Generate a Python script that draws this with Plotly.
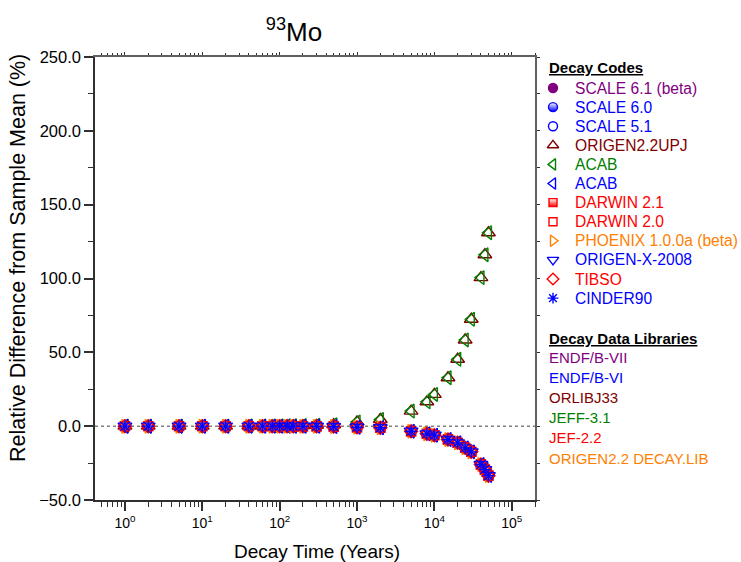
import math
import plotly.graph_objects as go

# ---------------- data ----------------
times = [1, 2, 5, 10, 20, 40, 60, 80, 100, 125, 150, 200, 300, 500,
         1000, 2000, 5000, 8000, 10000, 15000, 20000, 25000, 30000,
         40000, 45000, 50000]
upper_vals = [0.0, 0.0, 0.0, 0.0, 0.0, 0.1, 0.1, 0.2, 0.2, 0.3, 0.3, 0.4, 0.6, 1.0,
              2.9, 4.5, 10.2, 16.5, 21.5, 32.8, 45.3, 58.4, 72.4,
              100.6, 116.1, 131.0]
lower_vals = [0.0, 0.0, 0.0, 0.0, 0.0, 0.0, 0.0, 0.0, 0.0, 0.0, -0.1, -0.1, -0.1, -0.2,
              -0.7, -1.1, -3.4, -5.2, -6.1, -9.0, -11.3, -14.7, -17.4,
              -26.0, -29.4, -33.5]

codes = ["SCALE 6.1 (beta)", "SCALE 6.0", "SCALE 5.1", "ORIGEN2.2UPJ", "ACAB", "ACAB",
         "DARWIN 2.1", "DARWIN 2.0", "PHOENIX 1.0.0a (beta)", "ORIGEN-X-2008", "TIBSO", "CINDER90"]
code_group = ["lower", "lower", "lower", "upper", "upper", "lower",
              "lower", "lower", "lower", "lower", "lower", "lower"]
code_colors = ["#800080", "#0000FF", "#0000FF", "#800000", "#008000", "#0000FF",
               "#FF0000", "#FF0000", "#FF8000", "#0000FF", "#FF0000", "#0000FF"]
code_symbols = ["circle", "circle", "circle-open", "triangle-up-open", "triangle-left-open",
                "triangle-left-open", "square", "square-open", "triangle-right-open",
                "triangle-down-open", "diamond-open", "asterisk-open"]
code_half = [False, True, False, False, False, False, True, False, False, False, False, False]
code_sizes = [10, 10, 10, 12, 12, 12, 9, 9, 12, 12, 10, 10]
legend_sizes = [9, 9, 9, 10, 10, 10, 8, 8, 10, 10, 9, 9]

libraries = ["ENDF/B-VII", "ENDF/B-VI", "ORLIBJ33", "JEFF-3.1", "JEF-2.2", "ORIGEN2.2 DECAY.LIB"]
library_colors = ["#800080", "#0000FF", "#800000", "#008000", "#FF0000", "#FF8000"]

x_tick_vals = [1, 10, 100, 1000, 10000, 100000]
x_tick_text = ["10<sup>%d</sup>" % k for k in range(6)]

FONT = "Liberation Sans, Arial, sans-serif"
W, H = 741, 562
ML, MT, MB = 95, 57, 62
PAPER_W = W - ML
PLOT_R = 535
X_RANGE = [math.log10(0.41), math.log10(2.0e5)]
Y_RANGE = [-50, 250]


def make_marker(col, sym, half, sz):
    m = dict(symbol=sym, size=sz, color=("white" if half else col), opacity=1,
             line=dict(color=col, width=1.4))
    if half:
        m["gradient"] = dict(type="vertical", color=col)
    return m


fig = go.Figure()

values = {"upper": upper_vals, "lower": lower_vals}
for name, grp, col, sym, half, sz in zip(codes, code_group, code_colors, code_symbols,
                                        code_half, code_sizes):
    fig.add_trace(go.Scatter(x=times, y=values[grp], mode="markers", name=name,
                             marker=make_marker(col, sym, half, sz), showlegend=False,
                             xaxis="x", yaxis="y"))

# invisible trace so the mirrored (top / right) axes get drawn
fig.add_trace(go.Scatter(x=[times[0]], y=[0], mode="markers", marker=dict(opacity=0),
                         showlegend=False, hoverinfo="skip", xaxis="x3", yaxis="y3"))

# legend block drawn on a secondary axis pair (pixel-like coordinates)
leg_y = [88 + 19.1 * i for i in range(len(codes))]
for name, col, sym, half, sz, yy in zip(codes, code_colors, code_symbols, code_half,
                                       legend_sizes, leg_y):
    fig.add_trace(go.Scatter(x=[8], y=[yy], mode="markers", showlegend=False,
                             hoverinfo="skip", xaxis="x2", yaxis="y2",
                             marker=make_marker(col, sym, half, sz)))

annotations = []
annotations.append(dict(text="Decay Codes", xref="x2", yref="y2", x=1.5, y=67,
                        xanchor="left", yanchor="middle", showarrow=False,
                        font=dict(family=FONT, size=15, color="black", weight="bold",
                                  lineposition="under")))
for name, col, yy in zip(codes, code_colors, leg_y):
    annotations.append(dict(text=name, xref="x2", yref="y2", x=28, y=yy,
                            xanchor="left", yanchor="middle", showarrow=False,
                            font=dict(family=FONT, size=15.6, color=col)))
annotations.append(dict(text="Decay Data Libraries", xref="x2", yref="y2", x=1.5, y=338,
                        xanchor="left", yanchor="middle", showarrow=False,
                        font=dict(family=FONT, size=15, color="black", weight="bold",
                                  lineposition="under")))
for i, (lib, col) in enumerate(zip(libraries, library_colors)):
    annotations.append(dict(text=lib, xref="x2", yref="y2", x=1.5, y=357 + 20.2 * i,
                            xanchor="left", yanchor="middle", showarrow=False,
                            font=dict(family=FONT, size=15, color=col)))

# axis titles
annotations.append(dict(text="Relative Difference from Sample Mean (%)", textangle=-90,
                        xref="paper", yref="paper", x=(18 - ML) / PAPER_W,
                        y=(H - MB - 258) / (H - MT - MB), xanchor="center", yanchor="middle",
                        showarrow=False, font=dict(family=FONT, size=21.5, color="black")))
annotations.append(dict(text="Decay Time (Years)", xref="paper", yref="paper",
                        x=(317 - ML) / PAPER_W, y=-(551 - (H - MB)) / (H - MT - MB),
                        xanchor="center", yanchor="middle", showarrow=False,
                        font=dict(family=FONT, size=19, color="black")))

minor_x = [m * 10 ** k for k in range(-1, 6) for m in range(2, 10)
           if 0.41 <= m * 10 ** k <= 2.0e5]

axis_common = dict(showgrid=False, zeroline=False, showline=True, linecolor="#303030",
                   linewidth=1.5, ticks="outside", tickcolor="#303030",
                   tickwidth=1.5, ticklen=9)
mirror_common = dict(showgrid=False, zeroline=False, showline=True, linecolor="#606060",
                     linewidth=1.5, ticks="outside", tickcolor="#303030", tickwidth=1,
                     ticklen=3, showticklabels=False, fixedrange=True)

fig.update_layout(
    width=W, height=H,
    margin=dict(l=ML, r=0, t=MT, b=MB, pad=0),
    paper_bgcolor="white", plot_bgcolor="white",
    font=dict(family=FONT, color="black"),
    title=dict(text="<sup>93</sup>Mo", x=294 / W, xref="container", xanchor="center",
               y=1 - 32 / H, yref="container", yanchor="middle",
               font=dict(family=FONT, size=26, color="black")),
    xaxis=dict(type="log", range=X_RANGE,
               domain=[0, (PLOT_R - ML) / PAPER_W], anchor="y",
               tickmode="array", tickvals=x_tick_vals, ticktext=x_tick_text,
               tickfont=dict(family=FONT, size=14, color="black"),
               minor=dict(tickmode="array", tickvals=minor_x, ticks="outside", ticklen=5,
                          tickwidth=1, tickcolor="#303030"),
               **axis_common),
    yaxis=dict(range=Y_RANGE, tick0=0, dtick=50, tickformat=".1f", anchor="x",
               tickfont=dict(family=FONT, size=16.5, color="black"),
               minor=dict(dtick=25, ticks="outside", ticklen=5, tickwidth=1,
                          tickcolor="#303030"),
               **axis_common),
    xaxis3=dict(type="log", range=X_RANGE, overlaying="x", side="top", anchor="y3",
                tickmode="array", tickvals=x_tick_vals,
                minor=dict(tickmode="array", tickvals=minor_x, ticks="outside",
                           ticklen=2, tickwidth=1, tickcolor="#303030"),
                **mirror_common),
    yaxis3=dict(range=Y_RANGE, overlaying="y", side="right", anchor="x3",
                tick0=0, dtick=25, **mirror_common),
    xaxis2=dict(domain=[(545 - ML) / PAPER_W, 1], range=[0, W - 545], anchor="y2",
                visible=False, fixedrange=True),
    yaxis2=dict(domain=[0, 1], range=[H - MB, MT], anchor="x2", visible=False,
                fixedrange=True),
    annotations=annotations,
    shapes=[dict(type="line", xref="x domain", yref="y", x0=0, x1=1, y0=0, y1=0,
                 line=dict(color="#808080", width=1.5, dash="dot"), layer="below")],
)

fig.write_html("out.html")
